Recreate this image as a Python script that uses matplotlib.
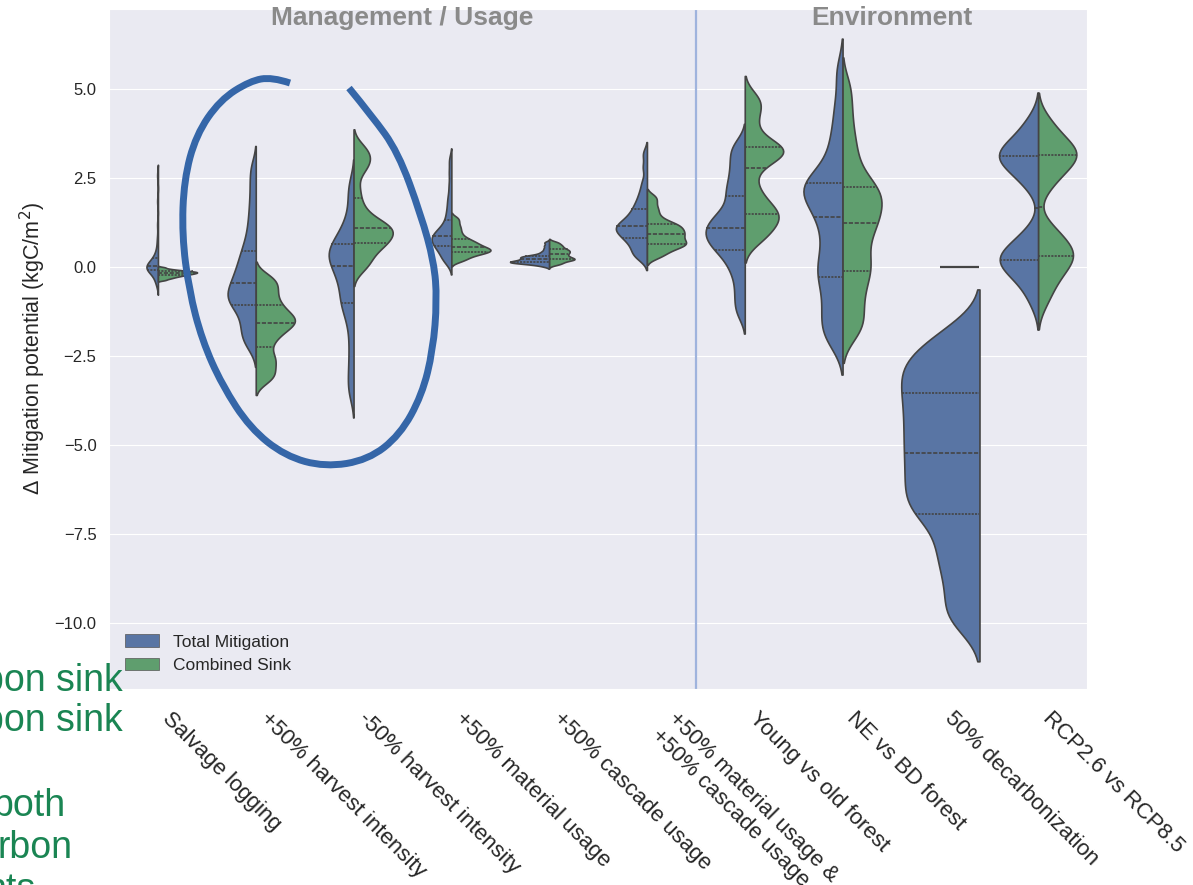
import numpy as np
import pandas as pd
import matplotlib
matplotlib.use("Agg")
import matplotlib.pyplot as plt
import seaborn as sns
from matplotlib.patches import Patch, PathPatch
from matplotlib.path import Path
import matplotlib.transforms as mtransforms

# scenario names (x axis)
categories = ["Salvage logging", "+50% harvest intensity", "-50% harvest intensity",
              "+50% material usage", "+50% cascade usage",
              "+50% material usage &\n+50% cascade usage",
              "Young vs old forest", "NE vs BD forest", "50% decarbonization",
              "RCP2.6 vs RCP8.5"]
kinds = ["Total Mitigation", "Combined Sink"]
groups = ["Management / Usage", "Environment"]

# values (kgC/m2), one list per half violin
salvage_total = [-0.47, -0.4, -0.3, -0.2, -0.15, -0.11, -0.09, -0.07, -0.05, -0.03, -0.01, 0.0, 0.01, 0.02,
                 0.03, 0.05, 0.08, 0.11, 0.15, 0.2, 0.24, 0.3, 0.4, 0.55, 0.8, 1.2, 1.85, 2.57]
salvage_sink = [-0.364, -0.33, -0.307, -0.288, -0.271, -0.257, -0.244, -0.232, -0.221, -0.211, -0.2015, -0.1925,
                -0.184, -0.176, -0.168, -0.16, -0.153, -0.1455, -0.1385, -0.131, -0.124, -0.115, -0.106, -0.0955,
                -0.083, -0.0675, -0.0445, -0.008]
harv_up_total = [-2.2, -2.05, -1.85, -1.68, -1.5, -1.3, -1.15, -1.02, -0.95, -0.88, -0.8, -0.72, -0.62, -0.52,
                 -0.4, -0.3, -0.18, -0.05, 0.1, 0.25, 0.42, 0.6, 0.85, 1.15, 1.5, 1.9, 2.35, 2.8]
harv_up_sink = [-3.2, -3.08, -2.95, -2.8, -2.65, -2.55, -2.4, -2.2, -2.05, -1.92, -1.82, -1.73, -1.65, -1.59,
                -1.53, -1.47, -1.41, -1.35, -1.27, -1.17, -1.08, -0.98, -0.85, -0.72, -0.6, -0.48, -0.36, -0.24]
harv_down_total = [-3.55, -3.15, -2.7, -2.2, -1.7, -1.35, -1.1, -0.98, -0.8, -0.6, -0.42, -0.28, -0.15, -0.02,
                   0.1, 0.2, 0.28, 0.35, 0.43, 0.52, 0.61, 0.72, 0.85, 1.0, 1.2, 1.5, 1.95, 2.35]
harv_down_sink = [-0.06, 0.08, 0.2, 0.35, 0.48, 0.58, 0.64, 0.69, 0.76, 0.83, 0.9, 0.96, 1.02, 1.07,
                  1.11, 1.16, 1.22, 1.3, 1.42, 1.6, 1.85, 2.2, 2.65, 2.85, 2.98, 3.1, 3.25, 3.4]
material_total = [0.13, 0.2, 0.28, 0.37, 0.45, 0.51, 0.56, 0.61, 0.66, 0.7, 0.74, 0.78, 0.82, 0.85,
                  0.89, 0.93, 0.98, 1.03, 1.1, 1.18, 1.3, 1.45, 1.6, 1.8, 2.0, 2.3, 2.65, 3.0]
material_sink = [0.17, 0.22, 0.28, 0.32, 0.36, 0.39, 0.41, 0.43, 0.45, 0.47, 0.49, 0.51, 0.53, 0.55,
                 0.58, 0.61, 0.64, 0.67, 0.7, 0.74, 0.78, 0.83, 0.9, 0.98, 1.07, 1.16, 1.27, 1.38]
cascade_total = [0.03, 0.07, 0.09, 0.11, 0.12, 0.13, 0.135, 0.14, 0.15, 0.16, 0.17, 0.185, 0.2, 0.215,
                 0.23, 0.245, 0.26, 0.275, 0.29, 0.3, 0.31, 0.33, 0.36, 0.4, 0.45, 0.52, 0.6, 0.69]
cascade_sink = [0.07, 0.1, 0.13, 0.16, 0.19, 0.205, 0.215, 0.225, 0.24, 0.26, 0.28, 0.3, 0.32, 0.345,
                0.37, 0.39, 0.41, 0.43, 0.45, 0.47, 0.49, 0.51, 0.54, 0.57, 0.6, 0.63, 0.67, 0.71]
both_total = [0.25, 0.33, 0.43, 0.53, 0.63, 0.72, 0.79, 0.84, 0.9, 0.96, 1.01, 1.06, 1.1, 1.13,
              1.17, 1.22, 1.28, 1.35, 1.42, 1.5, 1.6, 1.7, 1.82, 1.97, 2.15, 2.4, 2.8, 3.18]
both_sink = [0.27, 0.36, 0.44, 0.5, 0.56, 0.6, 0.63, 0.66, 0.7, 0.74, 0.78, 0.83, 0.87, 0.91,
             0.95, 0.99, 1.03, 1.07, 1.12, 1.16, 1.2, 1.25, 1.32, 1.42, 1.55, 1.68, 1.84, 1.99]
young_total = [-1.3, -0.95, -0.6, -0.25, 0.0, 0.2, 0.38, 0.5, 0.6, 0.7, 0.79, 0.88, 0.97, 1.05,
               1.13, 1.22, 1.32, 1.43, 1.55, 1.7, 1.98, 2.1, 2.3, 2.52, 2.75, 3.0, 3.25, 3.46]
young_sink = [0.7, 0.85, 1.0, 1.12, 1.25, 1.35, 1.43, 1.51, 1.6, 1.72, 1.88, 2.05, 2.3, 2.65,
              2.92, 3.05, 3.14, 3.21, 3.27, 3.32, 3.35, 3.45, 3.62, 3.9, 4.2, 4.45, 4.65, 4.8]
nebd_total = [-2.1, -1.9, -1.6, -1.35, -1.05, -0.75, -0.42, -0.22, -0.05, 0.2, 0.45, 0.75, 1.05, 1.3,
              1.52, 1.72, 1.9, 2.05, 2.18, 2.28, 2.35, 2.45, 2.7, 3.05, 3.45, 3.95, 4.6, 5.5]
nebd_sink = [-1.85, -1.7, -1.4, -1.1, -0.8, -0.55, -0.27, -0.05, 0.05, 0.3, 0.55, 0.8, 1.02, 1.17,
             1.33, 1.5, 1.66, 1.8, 1.95, 2.08, 2.22, 2.35, 2.6, 2.95, 3.35, 3.8, 4.4, 5.05]
decarb_total = [-10.0, -9.55, -8.95, -8.45, -8.0, -7.6, -7.08, -6.88, -6.63, -6.38, -6.12, -5.87, -5.61, -5.36,
                -5.11, -4.86, -4.61, -4.36, -4.11, -3.86, -3.61, -3.37, -3.13, -2.9, -2.67, -2.43, -2.15, -1.7]
decarb_sink = [0.0, 0.0, 0.0, 0.0, 0.0, 0.0]
rcp_total = [-1.0, -0.6, -0.36, -0.2, -0.05, 0.07, 0.15, 0.21, 0.28, 0.37, 0.48, 0.62, 0.8, 1.05,
             2.25, 2.5, 2.68, 2.83, 2.96, 3.06, 3.12, 3.17, 3.24, 3.34, 3.47, 3.65, 3.88, 4.15]
rcp_sink = [-1.0, -0.65, -0.38, -0.2, -0.03, 0.12, 0.24, 0.32, 0.4, 0.5, 0.62, 0.78, 0.98, 1.15,
            2.2, 2.48, 2.66, 2.82, 2.96, 3.08, 3.14, 3.2, 3.27, 3.37, 3.5, 3.68, 3.9, 4.15]

total_values = [salvage_total, harv_up_total, harv_down_total, material_total, cascade_total,
                both_total, young_total, nebd_total, decarb_total, rcp_total]
sink_values = [salvage_sink, harv_up_sink, harv_down_sink, material_sink, cascade_sink,
               both_sink, young_sink, nebd_sink, decarb_sink, rcp_sink]

rows = []
flat = []  # halves with a single value are drawn as a line, like seaborn does
for i, cat in enumerate(categories):
    for kind, vals in zip(kinds, [total_values[i], sink_values[i]]):
        if np.ptp(vals) == 0:
            flat.append((i, kind, vals[0]))
            continue
        for v in vals:
            rows.append({"scenario": cat, "kind": kind, "value": v})
df = pd.DataFrame(rows)

sns.set_style("darkgrid")
plt.rcParams["font.family"] = ["Liberation Sans", "DejaVu Sans"]

blue, green = sns.color_palette("deep")[0], sns.color_palette("deep")[2]

fig = plt.figure(figsize=(11.93, 8.85), dpi=100)
ax = fig.add_axes([0.0914, 0.2215, 0.8198, 0.7683])

# one call per scenario so both halves are scaled against each other only
# (old seaborn scale="area", scale_hue=True)
for cat in categories:
    sns.violinplot(data=df[df["scenario"] == cat], x="scenario", y="value", hue="kind",
                   order=categories, hue_order=kinds, split=True, inner="quart", cut=2,
                   bw_adjust=0.45, density_norm="area", common_norm=True, palette=[blue, green],
                   linewidth=1.2, linecolor="#444444", legend=False, ax=ax)

for i, kind, v in flat:
    x0 = i if kind == kinds[1] else i - 0.4
    ax.plot([x0, x0 + 0.4], [v, v], color="#444444", lw=1.6, solid_capstyle="butt")

ax.set_xlim(-0.5, 9.5)
ax.set_ylim(-11.85, 7.25)
ax.set_yticks([5, 2.5, 0, -2.5, -5, -7.5, -10])
ax.set_yticklabels(["5.0", "2.5", "0.0", "\u22122.5", "\u22125.0", "\u22127.5", "\u221210.0"])
ax.tick_params(axis="y", labelsize=12, pad=5.5)
ax.set_xticks(range(len(categories)))
ax.set_xticklabels(categories, rotation=-45, ha="left", fontsize=16)
ax.tick_params(axis="x", pad=10)
ax.set_xlabel("")
ax.set_ylabel("\u0394 Mitigation potential (kgC/m$^2$)", fontsize=15.5, labelpad=5)

ax.axvline(5.5, color="#9fb3dd", lw=1.6)
trans = mtransforms.blended_transform_factory(ax.transData, ax.transAxes)
ax.text(2.5, 0.976, groups[0], transform=trans, ha="center", va="baseline",
        fontsize=19, fontweight="bold", color="#8a8a8a")
ax.text(7.5, 0.976, groups[1], transform=trans, ha="center", va="baseline",
        fontsize=19, fontweight="bold", color="#8a8a8a")

handles = [Patch(facecolor=c, edgecolor="#555555", lw=0.5) for c in sns.color_palette([blue, green], desat=0.75)]
ax.legend(handles, kinds, loc="lower left", fontsize=12.5, frameon=False)

# overlay in pixel coordinates: slide text and the hand-drawn circle
ov = fig.add_axes([0, 0, 1, 1], zorder=5)
ov.set_xlim(0, 1193)
ov.set_ylim(885, 0)
ov.axis("off")
ov.patch.set_alpha(0)

slide_lines = [("bon sink", 123, 691), ("bon sink", 123, 731), ("both", 66, 816),
               ("rbon", 72, 858), ("nts", 36, 900)]
for txt, x, y in slide_lines:
    ov.text(x, y, txt, ha="right", va="baseline", fontsize=27, color="#1a8553")

pen = [(349, 88), (372, 116), (398, 152), (421, 215), (434, 262), (437, 300), (433, 350),
       (422, 395), (400, 435), (368, 460), (325, 467), (285, 456), (250, 428), (222, 385),
       (202, 340), (189, 290), (182, 235), (184, 180), (196, 135), (220, 100), (250, 81),
       (272, 77), (290, 83)]
verts = [pen[0]]
codes = [Path.MOVETO]
for k in range(1, len(pen) - 1):
    end = pen[-1] if k == len(pen) - 2 else ((pen[k][0] + pen[k + 1][0]) / 2, (pen[k][1] + pen[k + 1][1]) / 2)
    verts += [pen[k], end]
    codes += [Path.CURVE3, Path.CURVE3]
ov.add_patch(PathPatch(Path(verts, codes), facecolor="none", edgecolor="#3566a8", lw=5,
                       capstyle="butt"))

fig.savefig("out.png", dpi=100)
